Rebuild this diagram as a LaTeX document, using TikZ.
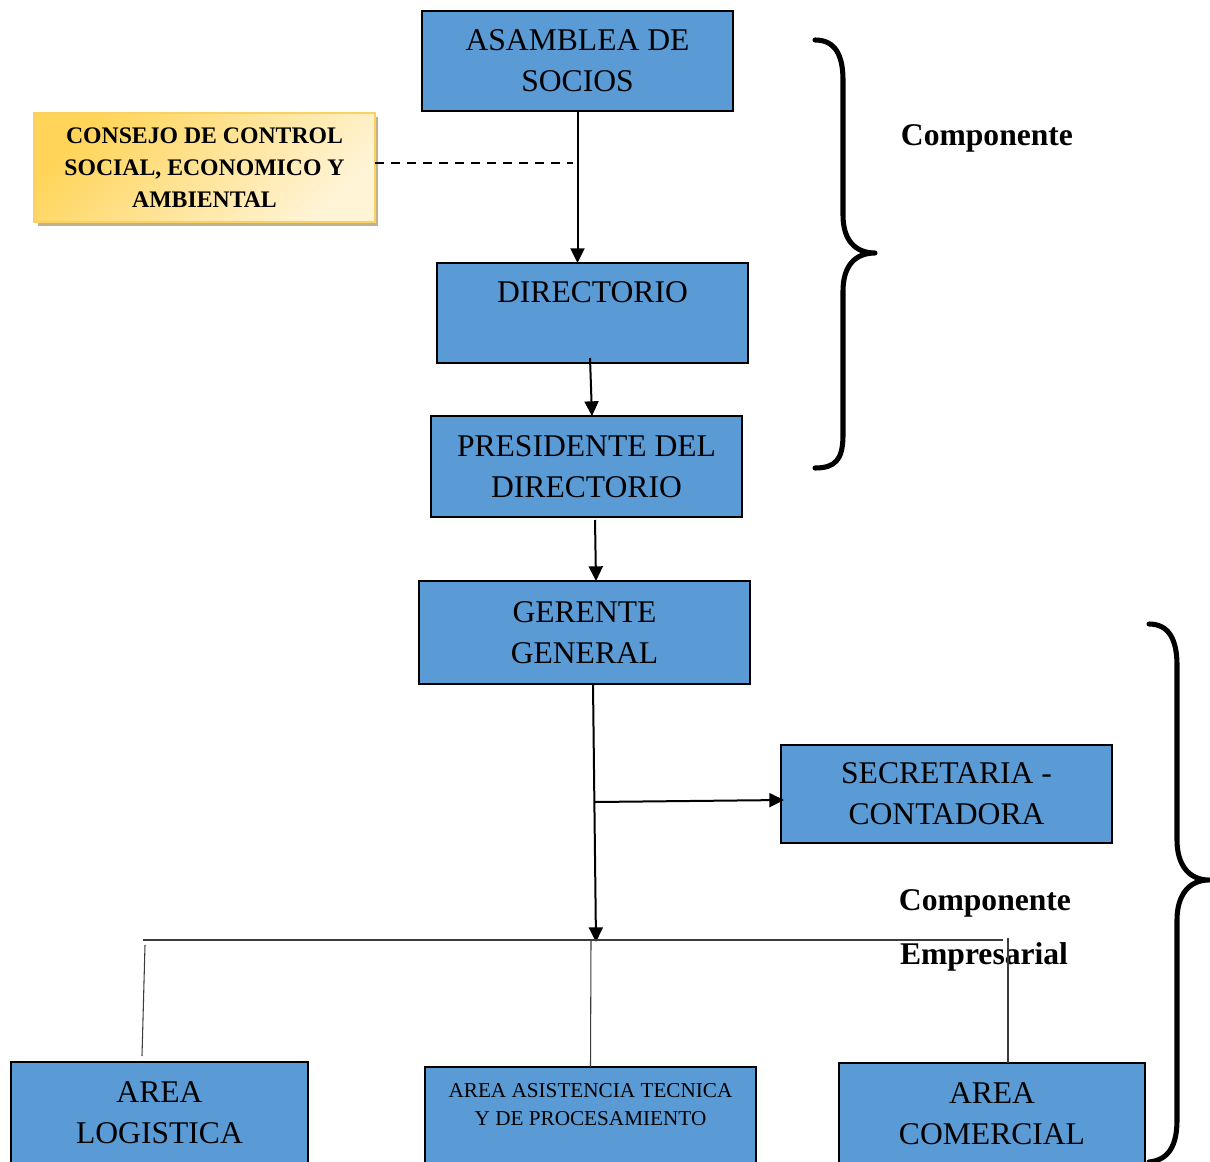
\documentclass[tikz,border=0pt]{standalone}
\usepackage{fontspec}
\setmainfont{Liberation Serif}
\usetikzlibrary{arrows.meta,calc}
\definecolor{boxblue}{RGB}{91,155,213}
\definecolor{goldA}{RGB}{255,212,88}
\definecolor{goldB}{RGB}{255,244,214}
\definecolor{goldline}{RGB}{250,210,100}
\definecolor{shadowtan}{RGB}{192,178,138}
\definecolor{thinline}{RGB}{60,60,60}
\tikzset{
  bluebox/.style={draw=black, line width=1.5pt, fill=boxblue, inner sep=0pt, outer sep=0pt,
    align=center, font=\fontsize{23.7}{30.75}\selectfont},
  goldbox/.style={draw=goldline, line width=1.2pt, top color=goldA, bottom color=goldB,
    shading angle=45, inner sep=0pt, outer sep=0pt, align=center,
    font=\bfseries\fontsize{17.8}{24}\selectfont},
  smalltext/.style={inner sep=0pt, align=center, font=\fontsize{15.9}{21}\selectfont},
  lbl/.style={inner sep=0pt, font=\bfseries\fontsize{23.7}{30}\selectfont},
  arr/.style={line width=1.5pt, -{Triangle[length=11pt,width=10.5pt]}},
  thin/.style={line width=0.8pt, draw=thinline},
  bracestyle/.style={line width=3.8pt, line cap=round, line join=round}
}
\begin{document}
\begin{tikzpicture}[x=0.75pt,y=-0.75pt]
\useasboundingbox (0,0) rectangle (1210,1162);
\clip (0,0) rectangle (1210,1162);
\fill[white] (0,0) rectangle (1210,1162);

% top boxes
\node[bluebox, minimum width=233.25pt, minimum height=75pt] (asam) at (577.5,61) {ASAMBLEA DE\\SOCIOS};
\fill[shadowtan] (38,117) rectangle (378,226);
\node[goldbox, minimum width=255.75pt, minimum height=81.75pt] (cons) at (204.5,167.5) {CONSEJO DE CONTROL\\SOCIAL, ECONOMICO Y\\AMBIENTAL};
\node[bluebox, minimum width=233.25pt, minimum height=75pt] (dir) at (592.5,313) {DIRECTORIO\\\mbox{}};
\node[bluebox, minimum width=233.25pt, minimum height=75.75pt] (pres) at (586.5,466.5) {PRESIDENTE DEL\\DIRECTORIO};
\node[bluebox, minimum width=248.25pt, minimum height=77.25pt] (ger) at (584.5,632.5) {GERENTE\\GENERAL};
\node[bluebox, minimum width=248.25pt, minimum height=73.5pt] (sec) at (946.5,794) {SECRETARIA -\\CONTADORA};

% bottom boxes
\node[bluebox, minimum width=222.75pt, minimum height=76.5pt] (log) at (159.5,1113) {AREA\\LOGISTICA};
\node[bluebox, minimum width=248.25pt, minimum height=75pt] (asis) at (590.5,1117) {};
\node[smalltext] (asistxt) at (590.5,1105) {AREA ASISTENCIA TECNICA\\Y DE PROCESAMIENTO};
\node[bluebox, minimum width=229.5pt, minimum height=76.5pt] (com) at (992,1114) {AREA\\COMERCIAL};

% labels
\node[lbl] (lab1) at (987,138) {Componente};
\node[lbl] (lab2) at (985,903) {Componente};
\node[lbl] (lab3) at (984,957) {Empresarial};

% connectors
\draw[arr] (asam.south) -- (asam.south |- dir.north);
\draw[line width=1.5pt, dash pattern=on 7pt off 5pt] ($(cons.east)+(0,-4)$) -- ($(asam.south |- cons.east)+(-5,-4)$);
\draw[arr] ($(dir.south)+(-2.5,-5)$) -- ($(pres.north)+(5.5,0)$);
\draw[arr] ($(pres.south)+(8.5,3)$) -- ($(ger.north)+(11.5,0)$);
\coordinate (busc) at (596,942);
\coordinate (branch) at (595,802);
\draw[arr] ($(ger.south)+(8.5,0)$) -- (busc);
\draw[arr] (branch) -- ($(sec.west)+(3,6)$);

% bus lines
\coordinate (busL) at (143,940);
\coordinate (busR) at (1003,940);
\draw[thin] (busL) -- (busR);
\draw[thin] (145,945) -- ($(log.north)+(-17.5,-6)$);
\draw[thin] (591,940) -- (asis.north);
\draw[thin] (1008,938) -- ($(com.north)+(16,0)$);

% braces
\draw[bracestyle] (815,40) .. controls (835,40) and (843,55) .. (843,80) -- (843,215)
  .. controls (843,240) and (855,253) .. (875,253)
  .. controls (855,253) and (843,266) .. (843,291) -- (843,435)
  .. controls (843,460) and (835,468) .. (815,468);
\draw[bracestyle] (1149,624) .. controls (1169,624) and (1177,640) .. (1177,665) -- (1177,840)
  .. controls (1177,865) and (1189,880) .. (1209,880)
  .. controls (1189,880) and (1177,895) .. (1177,920) -- (1177,1120)
  .. controls (1177,1145) and (1169,1160) .. (1149,1162);
\end{tikzpicture}
\end{document}
